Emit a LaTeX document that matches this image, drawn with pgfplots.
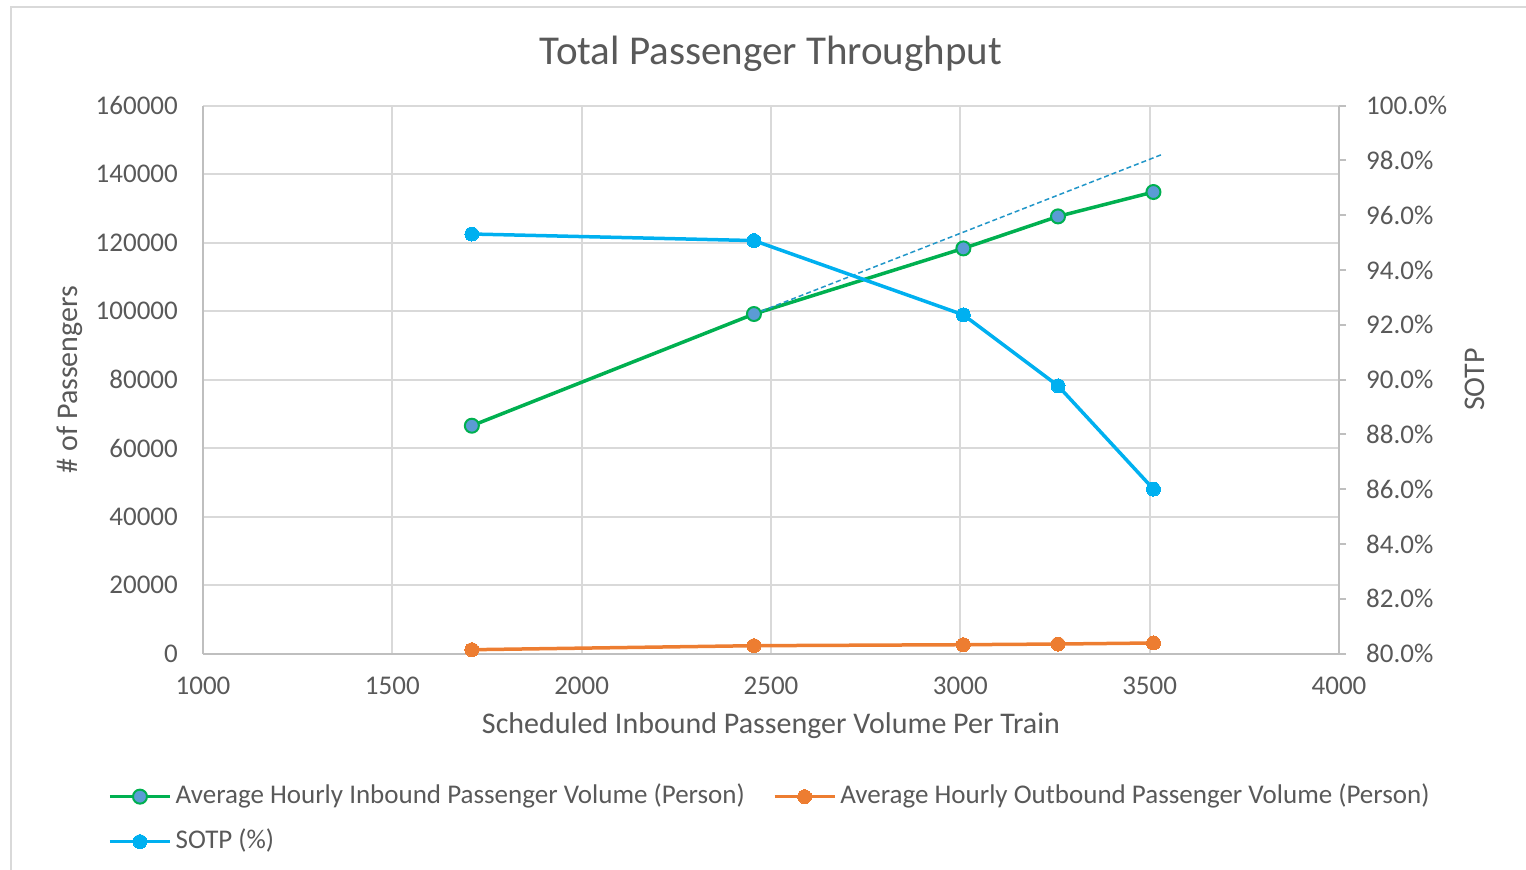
\documentclass[border=0pt]{standalone}
\usepackage{fontspec}
\setmainfont{Carlito}
\usepackage{pgfplots}
\pgfplotsset{compat=1.18}

\definecolor{txt}{HTML}{595959}
\definecolor{gridc}{HTML}{D9D9D9}
\definecolor{axc}{HTML}{BFBFBF}
\definecolor{inb}{HTML}{00B050}
\definecolor{inbfill}{HTML}{5B9BD5}
\definecolor{outb}{HTML}{ED7D31}
\definecolor{sotp}{HTML}{00B0F0}
\definecolor{trend}{HTML}{2196C8}

\tikzset{lbl/.style={font=\fontsize{30bp}{36bp}\selectfont, text=txt}}

\begin{document}
\begin{tikzpicture}
\useasboundingbox (0,0) rectangle (1526bp,-870bp);
% chart area frame (cropped at right and bottom)
\draw[gridc, line width=2bp] (10.5bp,-872bp) -- (10.5bp,-6.5bp) -- (1528bp,-6.5bp);

\pgfplotsset{
  common/.style={
    at={(203bp,-653.5bp)}, anchor=south west,
    scale only axis, width=1136bp, height=548bp,
    xmin=1000, xmax=4000,
    scaled ticks=false,
    /pgf/number format/assume math mode=true,
    /pgf/number format/fixed,
    /pgf/number format/1000 sep={},
    ticklabel style={font=\fontsize{27bp}{32bp}\selectfont, text=txt, inner sep=0pt},
    axis line style={axc, line width=2bp},
  },
  lgimg/.style={legend image code/.code={
    \draw[mark repeat=2,mark phase=2] plot coordinates {(0bp,0bp) (30bp,0bp) (60bp,0bp)};}},
}

\begin{axis}[common,
  ymin=0, ymax=160000,
  xtick={1000,1500,...,4000},
  ytick={0,20000,...,160000},
  axis x line*=bottom, axis y line*=left,
  major tick length=0pt,
  grid=major, major grid style={gridc, line width=2bp},
  xticklabel style={anchor=north, yshift=-23.5bp},
  yticklabel style={anchor=east, xshift=-25bp},
  xlabel={Scheduled Inbound Passenger Volume Per Train},
  ylabel={\# of Passengers},
  every axis x label/.style={at={(axis description cs:0.5,-0.1464)}, anchor=base, lbl},
  every axis y label/.style={at={(axis description cs:-0.1103,0.5)}, anchor=base, rotate=90, lbl},
  title={Total Passenger Throughput},
  every axis title/.style={at={(axis description cs:0.5,1.0757)}, anchor=base,
    font=\fontsize{41bp}{48bp}\selectfont, text=txt},
  legend columns=2,
  legend cell align=left,
  legend style={
    at={(axis description cs:-0.0836,-0.238)}, anchor=north west,
    draw=none, fill=none, inner sep=0pt, row sep=20bp,
    nodes={inner sep=0pt, text height=19bp, text depth=6bp,
      font=\fontsize{27bp}{32bp}\selectfont, text=txt},
    /tikz/every odd column/.append style={column sep=4bp},
    /tikz/every even column/.append style={column sep=28bp},
  },
  lgimg,
]
\addplot[inb, line width=3.5bp, mark=*, mark size=7bp,
  mark options={fill=inbfill, draw=inb, line width=2bp}]
  coordinates {(1710,66510) (2455,99120) (3008,118280) (3258,127620) (3510,134740)};
\addlegendentry{Average Hourly Inbound Passenger Volume (Person)}
\addplot[outb, line width=3.5bp, mark=*, mark size=7bp,
  mark options={fill=outb, draw=outb, line width=0pt}]
  coordinates {(1710,1110) (2455,2280) (3008,2570) (3258,2770) (3510,3070)};
\addlegendentry{Average Hourly Outbound Passenger Volume (Person)}
\addlegendimage{sotp, line width=3.5bp, mark=*, mark size=7bp,
  mark options={fill=sotp, draw=sotp, line width=0pt}}
\addlegendentry{SOTP (\%)}
% linear trendline of inbound volume
\addplot[trend, line width=1.5bp, dash pattern=on 5bp off 3bp, forget plot]
  coordinates {(2455,99120) (3533,145720)};
\end{axis}

\begin{axis}[common,
  ymin=80, ymax=100,
  ytick={80,82,...,100},
  axis y line*=right, axis x line=none,
  tick align=outside, major tick length=7bp,
  every tick/.style={axc, line width=2bp},
  yticklabel={\pgfmathprintnumber[fixed,fixed zerofill,precision=1]{\tick}\%},
  yticklabel style={anchor=west, xshift=20bp},
  ylabel={SOTP},
  every axis y label/.style={at={(axis description cs:1.1285,0.5)}, anchor=base, rotate=90, lbl},
]
\addplot[sotp, line width=3.5bp, mark=*, mark size=7bp,
  mark options={fill=sotp, draw=sotp, line width=0pt}]
  coordinates {(1710,95.31) (2455,95.07) (3008,92.36) (3258,89.77) (3510,86.00)};
\end{axis}
\end{tikzpicture}
\end{document}
